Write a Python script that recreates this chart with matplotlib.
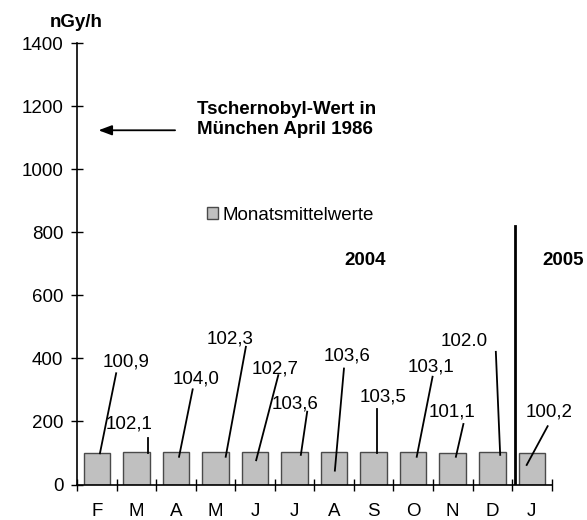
import matplotlib
matplotlib.use("Agg")
import matplotlib.pyplot as plt
from matplotlib.patches import Patch

plt.rcParams['font.family'] = ['Liberation Sans', 'DejaVu Sans']

months = ["F", "M", "A", "M", "J", "J", "A", "S", "O", "N", "D", "J"]
values = [100.9, 102.1, 104.0, 102.3, 102.7, 103.6, 103.6, 103.5, 103.1, 101.1, 102.0, 100.2]
labels = ["100,9", "102,1", "104,0", "102,3", "102,7", "103,6", "103,6", "103,5", "103,1", "101,1", "102.0", "100,2"]
# label text positions (x in category units, y in nGy/h)
label_x = [0.73, 0.82, 2.50, 3.38, 4.52, 5.02, 6.33, 7.24, 8.455, 8.97, 9.29, 11.43]
label_y = [389, 191, 334, 461, 366, 257, 407, 278, 373, 231, 453, 231]
# leader line endpoints
lead_x0 = [0.49, 1.30, 2.425, 3.77, 4.59, 5.32, 6.25, 7.085, 8.49, 9.27, 10.09, 11.40]
lead_y0 = [353, 146, 302, 437, 347, 231, 368, 238, 342, 192, 421, 185]
lead_x1 = [0.08, 1.30, 2.08, 3.26, 4.03, 5.16, 6.02, 7.085, 8.09, 9.08, 10.20, 10.87]
lead_y1 = [99, 99, 88, 88, 77, 94, 44, 99, 88, 88, 94, 62]

FS = 13.5
W, H = 587, 520
fig = plt.figure(figsize=(W / 100, H / 100), dpi=100)
left, right = 77 / W, 551.6 / W
bottom, top = (H - 484.5) / H, (H - 43.3) / H
ax = fig.add_axes([left, bottom, right - left, top - bottom])

x = list(range(len(months)))
ax.bar(x, values, width=0.67, color="#c0c0c0", edgecolor="#4a4a4a", linewidth=1.0, zorder=2)

ax.set_xlim(-0.5, len(months) - 0.5)
ax.set_ylim(0, 1400)
ax.set_yticks([0, 200, 400, 600, 800, 1000, 1200, 1400])
ax.set_xticks(x)
ax.set_xticklabels(months)
ax.set_xticks([i - 0.5 for i in range(len(months) + 1)], minor=True)
ax.tick_params(axis="x", which="major", length=0, pad=13.5, labelsize=FS)
ax.tick_params(axis="x", which="minor", direction="inout", length=9, width=1)
ax.tick_params(axis="y", direction="inout", length=8.5, width=1, pad=5.5, labelsize=FS)

for s in ["top", "right"]:
    ax.spines[s].set_visible(False)
for s in ["left", "bottom"]:
    ax.spines[s].set_linewidth(1.2)

# data labels with leader lines
for i in range(len(values)):
    ax.text(label_x[i], label_y[i], labels[i], ha="center", va="center", fontsize=FS, zorder=4)
    ax.plot([lead_x0[i], lead_x1[i]], [lead_y0[i], lead_y1[i]], color="black", lw=1.3, zorder=3)

# year separator
ax.plot([10.57, 10.57], [0, 820], color="black", lw=2, zorder=3)
ax.text(6.78, 710, "2004", ha="center", va="center", fontsize=FS, fontweight="bold")
ax.text(11.79, 710, "2005", ha="center", va="center", fontsize=FS, fontweight="bold", clip_on=False)

# Chernobyl annotation
ax.annotate("", xy=(-0.027, 1124), xytext=(2.05, 1124),
            arrowprops=dict(arrowstyle="-|>,head_length=0.8,head_width=0.3", color="black", lw=1.3))
ax.text(2.53, 1158, "Tschernobyl-Wert in\nMünchen April 1986", ha="left", va="center",
        fontsize=FS, fontweight="bold", linespacing=1.22)

ax.text(-0.525, 1467, "nGy/h", ha="center", va="center", fontsize=FS, fontweight="bold", clip_on=False)

handle = Patch(facecolor="#c0c0c0", edgecolor="#4a4a4a", linewidth=1.0)
fig.legend([handle], ["Monatsmittelwerte"], loc="center left",
           bbox_to_anchor=(207 / W, (H - 215) / H), frameon=False, fontsize=FS,
           handlelength=0.6, handleheight=0.6, handletextpad=0.2, borderaxespad=0, borderpad=0)

fig.savefig("out.png", dpi=100)
